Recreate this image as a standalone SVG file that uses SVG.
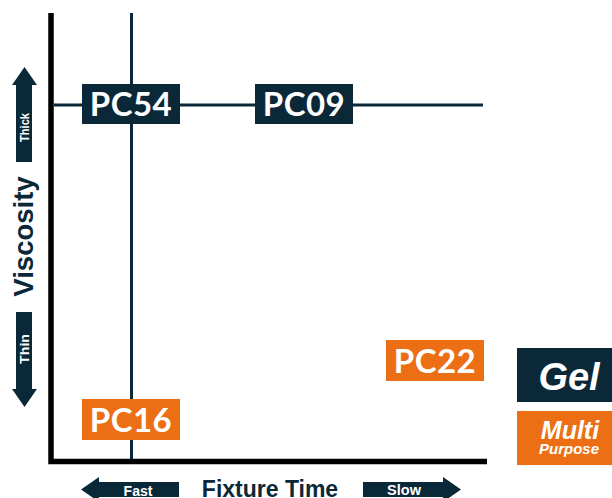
<svg xmlns="http://www.w3.org/2000/svg" width="612" height="498" viewBox="0 0 612 498">
<style>
.navy{fill:#0b2839}
.orange{fill:#ec6f16}
.pc{font-family:Lato,"Open Sans",sans-serif;font-weight:bold;font-size:33px;fill:#fff;text-anchor:middle;letter-spacing:0.5px}
.lbl{font-family:"Liberation Sans",Arial,sans-serif;font-weight:bold;fill:#fff;text-anchor:middle}
.axis{font-family:"Liberation Sans",Arial,sans-serif;font-weight:bold;fill:#0b2839;text-anchor:middle}
</style>
<rect width="612" height="498" fill="#fff"/>
<g id="connectors">
<line x1="131.5" y1="13" x2="131.5" y2="460" stroke="#0b2839" stroke-width="3"/>
<line x1="54" y1="105" x2="483" y2="105" stroke="#0b2839" stroke-width="3"/>
</g>
<g id="axes">
<path d="M51 13 V461.5 H487" fill="none" stroke="#000" stroke-width="5.5"/>
</g>
<g id="y-axis-labels">
<path class="navy" d="M24.5 67 L37 85 H32 V162 H16 V85 H12 Z"/>
<text class="lbl" font-size="13" transform="translate(29 127.5) rotate(-90)" textLength="29" lengthAdjust="spacingAndGlyphs">Thick</text>
<text class="axis" font-size="27.5" transform="translate(33 236.5) rotate(-90)">Viscosity</text>
<path class="navy" d="M16 312 H32 V389 H37 L24.5 407 L12 389 H16 Z"/>
<text class="lbl" font-size="13" transform="translate(29 349) rotate(-90)" textLength="30" lengthAdjust="spacingAndGlyphs">Thin</text>
</g>
<g id="x-axis-labels">
<path class="navy" d="M81 489.5 L99 477 V482 H179 V497 H99 V502 Z"/>
<text class="lbl" font-size="14" x="138" y="495.5">Fast</text>
<text class="axis" font-size="23" x="270" y="497">Fixture Time</text>
<path class="navy" d="M363 482 H443 V477 L461 489.5 L443 502 V497 H363 Z"/>
<text class="lbl" font-size="14.5" x="404" y="495">Slow</text>
</g>
<g id="PC54">
<rect class="navy" x="82" y="84" width="98" height="40"/>
<text class="pc" x="131" y="116">PC54</text>
</g>
<g id="PC09">
<rect class="navy" x="255" y="84" width="98" height="40"/>
<text class="pc" x="304" y="116">PC09</text>
</g>
<g id="PC16">
<rect class="orange" x="82" y="399" width="98" height="41"/>
<text class="pc" x="131" y="432">PC16</text>
</g>
<g id="PC22">
<rect class="orange" x="386" y="340" width="98" height="41"/>
<text class="pc" x="435" y="373">PC22</text>
</g>
<g id="legend-gel">
<rect class="navy" x="517" y="348" width="95" height="54"/>
<text class="lbl" font-size="38" font-style="italic" x="569" y="390">Gel</text>
</g>
<g id="legend-multi">
<rect class="orange" x="517" y="411" width="95" height="54"/>
<text class="lbl" font-size="25" font-style="italic" x="570" y="439">Multi</text>
<text class="lbl" font-size="15" font-style="italic" x="569" y="454">Purpose</text>
</g>
</svg>
